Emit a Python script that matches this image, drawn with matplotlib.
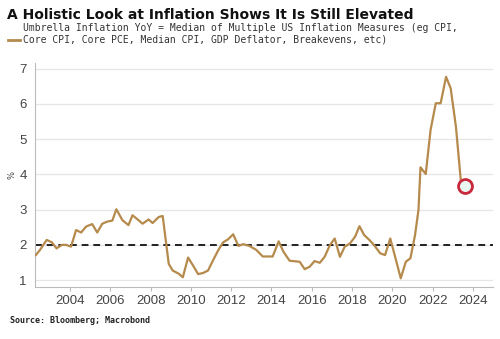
import matplotlib.pyplot as plt

# Umbrella inflation YoY (median of several US inflation measures)
years = [2002.3, 2002.5, 2002.84, 2003.1, 2003.33, 2003.6, 2003.8, 2004.05, 2004.3, 2004.55,
         2004.8, 2005.1, 2005.35, 2005.6, 2005.85, 2006.1, 2006.3, 2006.6, 2006.9, 2007.1,
         2007.4, 2007.6, 2007.9, 2008.1, 2008.4, 2008.6, 2008.9, 2009.1, 2009.4, 2009.6,
         2009.86, 2010.1, 2010.36, 2010.6, 2010.85, 2011.1, 2011.36, 2011.6, 2011.85, 2012.1,
         2012.36, 2012.6, 2012.9, 2013.24, 2013.57, 2014.06, 2014.36, 2014.6, 2014.9, 2015.4,
         2015.65, 2015.9, 2016.14, 2016.4, 2016.64, 2016.9, 2017.14, 2017.4, 2017.64, 2017.9,
         2018.15, 2018.37, 2018.6, 2018.86, 2019.1, 2019.4, 2019.64, 2019.9, 2020.14, 2020.42,
         2020.67, 2020.9, 2021.13, 2021.3, 2021.4, 2021.66, 2021.9, 2022.16, 2022.4, 2022.67,
         2022.9, 2023.16, 2023.4, 2023.62]
umbrella = [1.71, 1.85, 2.14, 2.07, 1.90, 2.00, 2.00, 1.95, 2.42, 2.35,
            2.52, 2.59, 2.35, 2.60, 2.66, 2.69, 3.01, 2.70, 2.56, 2.84,
            2.70, 2.60, 2.72, 2.62, 2.79, 2.82, 1.46, 1.27, 1.18, 1.08,
            1.64, 1.42, 1.17, 1.20, 1.27, 1.56, 1.85, 2.07, 2.16, 2.30,
            1.97, 2.02, 1.97, 1.86, 1.67, 1.67, 2.10, 1.80, 1.55, 1.52,
            1.31, 1.38, 1.54, 1.49, 1.66, 1.99, 2.18, 1.66, 1.95, 2.04,
            2.23, 2.53, 2.28, 2.14, 1.99, 1.76, 1.71, 2.18, 1.66, 1.05,
            1.52, 1.62, 2.28, 2.99, 4.20, 4.01, 5.26, 6.02, 6.02, 6.77,
            6.44, 5.35, 3.84, 3.68]
target = 2.0
xticks = [2004, 2006, 2008, 2010, 2012, 2014, 2016, 2018, 2020, 2022, 2024]
yticks = [1, 2, 3, 4, 5, 6, 7]

fig = plt.figure(figsize=(5, 3.39), dpi=100)
ax = fig.add_axes([0.07, 0.153, 0.916, 0.661])

ax.plot(years, umbrella, color='#B58A4C', lw=1.6, zorder=3)
ax.axhline(target, color='#222222', lw=1.4, ls=(0, (3.5, 2.5)), zorder=2)
ax.plot(years[-1], umbrella[-1], 'o', ms=10, mfc='#EAF4F0', mec='#C8283C', mew=2, zorder=4)

ax.set_xlim(2002.26, 2025.0)
ax.set_ylim(0.8, 7.16)
ax.set_xticks(xticks)
ax.set_yticks(yticks)
ax.grid(axis='y', color='#E6E6E6', lw=0.9)
ax.set_axisbelow(True)
for s in ['top', 'right']:
    ax.spines[s].set_visible(False)
for s in ['left', 'bottom']:
    ax.spines[s].set_color('#BBBBBB')
ax.tick_params(axis='x', length=3, color='#BBBBBB', labelsize=9.5, labelcolor='#444444', pad=3)
ax.tick_params(axis='y', length=0, labelsize=9.5, labelcolor='#444444', pad=6)
for lab in ax.get_xticklabels() + ax.get_yticklabels():
    lab.set_family('Liberation Sans')
ax.set_ylabel('%', fontsize=6, color='#444444', labelpad=2)

fig.text(0.014, 0.955, 'A Holistic Look at Inflation Shows It Is Still Elevated',
         fontsize=10, fontweight='bold', color='#111111', va='center')
fig.lines.append(plt.Line2D([0.016, 0.04], [0.882, 0.882], color='#B58A4C', lw=2,
                            transform=fig.transFigure))
fig.text(0.046, 0.9, 'Umbrella Inflation YoY = Median of Multiple US Inflation Measures (eg CPI,\n'
         'Core CPI, Core PCE, Median CPI, GDP Deflator, Breakevens, etc)',
         family='DejaVu Sans Mono', fontsize=7, color='#333333', va='center', linespacing=1.25)
fig.text(0.02, 0.056, 'Source: Bloomberg; Macrobond', family='DejaVu Sans Mono',
         fontsize=6, fontweight='bold', color='#222222', va='center')

fig.savefig('out.png', dpi=100)
